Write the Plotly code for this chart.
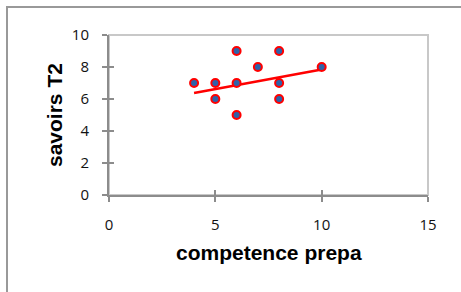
import plotly.graph_objects as go

competence_prepa = [4, 5, 5, 6, 6, 6, 7, 8, 8, 8, 10]
savoirs_t2 = [7, 7, 6, 9, 7, 5, 8, 9, 7, 6, 8]
trend_x = [4, 10]
trend_y = [6.37, 7.85]
x_ticks = [0, 5, 10, 15]
y_ticks = [0, 2, 4, 6, 8, 10]

W, H = 461, 292
L, T = 109, 35
pw, ph = 319, 160
R, B = W - L - pw, H - T - ph


def px_x(px):
    return (px - L) / pw


def px_y(py):
    return (T + ph - py) / ph


fig = go.Figure()
fig.add_trace(go.Scatter(x=trend_x, y=trend_y, mode="lines",
                         line=dict(color="#ff0000", width=2.5), showlegend=False))
fig.add_trace(go.Scatter(x=competence_prepa, y=savoirs_t2, mode="markers",
                         marker=dict(size=8, color="#2e62a8",
                                     line=dict(color="#ff0000", width=2)),
                         showlegend=False))
fig.add_trace(go.Scatter(x=[0], y=[0], xaxis="x2", yaxis="y2", mode="markers",
                         marker=dict(opacity=0), showlegend=False, hoverinfo="skip"))

tickfont = dict(family="Open Sans", size=15, color="#111111")
axcommon = dict(showgrid=False, zeroline=False, showline=True, linecolor="#8c8c8c",
                linewidth=2, ticks="outside", ticklen=5, tickwidth=2,
                tickcolor="#8c8c8c", tickfont=tickfont, ticklabelstandoff=10)
overcommon = dict(showgrid=False, zeroline=False, showline=False, showticklabels=False,
                  ticks="inside", ticklen=5, tickwidth=2, tickcolor="#8c8c8c")
fig.update_layout(
    width=W, height=H,
    margin=dict(l=L, r=R, t=T, b=B, pad=0),
    paper_bgcolor="white", plot_bgcolor="white",
    xaxis=dict(range=[0, 15], tickvals=x_ticks, **axcommon),
    yaxis=dict(range=[0, 10], tickvals=y_ticks, **axcommon),
    xaxis2=dict(range=[0, 15], tickvals=x_ticks, overlaying="x", anchor="y",
                side="bottom", **overcommon),
    yaxis2=dict(range=[0, 10], tickvals=y_ticks, overlaying="y", anchor="x",
                side="left", **overcommon),
    shapes=[
        dict(type="rect", xref="paper", yref="paper", x0=0, x1=1, y0=0, y1=1,
             line=dict(color="#c8c8c8", width=2), layer="below"),
        dict(type="rect", xref="paper", yref="paper",
             x0=px_x(7), x1=px_x(480), y0=px_y(310), y1=px_y(7),
             line=dict(color="#999999", width=2), layer="below"),
    ],
    annotations=[
        dict(text="<b>competence prepa</b>", xref="paper", yref="paper",
             x=0.5, y=px_y(252), xanchor="center", yanchor="middle", showarrow=False,
             font=dict(family="Liberation Sans", size=21, color="#000000")),
        dict(text="<b>savoirs T2</b>", xref="paper", yref="paper",
             x=px_x(54), y=0.5, textangle=-90,
             xanchor="center", yanchor="middle", showarrow=False,
             font=dict(family="Liberation Sans", size=21, color="#000000")),
    ],
)
fig.write_html("out.html", config={"displayModeBar": False},
               post_script="document.body.style.margin='0';document.body.style.overflow='hidden';")
